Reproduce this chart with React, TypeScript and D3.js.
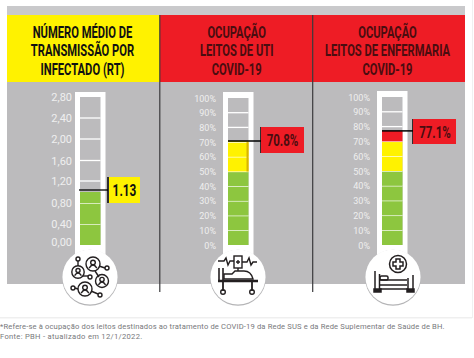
import React from "react";
import * as d3 from "d3";

const titles = [
  ["NÚMERO MÉDIO DE", "TRANSMISSÃO POR", "INFECTADO (RT)"],
  ["OCUPAÇÃO", "LEITOS DE UTI", "COVID-19"],
  ["OCUPAÇÃO", "LEITOS DE ENFERMARIA", "COVID-19"],
];
const rtTicks = ["2,80", "2,40", "2,00", "1,60", "1,20", "0,80", "0,40", "0,00"];
const rtValues = [2.8, 2.4, 2.0, 1.6, 1.2, 0.8, 0.4, 0];
const pctTicks = [100, 90, 80, 70, 60, 50, 40, 30, 20, 10, 0];
const values = [1.13, 70.8, 77.1];
const labels = ["1.13", "70.8%", "77.1%"];
const RED = "#ee1c25", YEL = "#fff200", GRN = "#8dc63f", GREY = "#bcbbbd";
const INK = "#231f20", DARKRED = "#4a0d10";

const F = "'Liberation Sans Narrow',Roboto,sans-serif";
const LABEL = "Roboto,sans-serif";

function segments(ticks: number[], y: any, v: number, color: (lo: number) => string, x: number, w: number, inset: number) {
  const out: React.ReactNode[] = [];
  const asc = [...ticks].sort((a, b) => a - b);
  asc.slice(0, -1).forEach((lo, i) => {
    const hi = asc[i + 1];
    const top = Math.min(hi, v);
    if (top > lo) {
      const t = y(top) + (top === v ? inset : 0);
      out.push(<rect key={lo} x={x} width={w} y={t} height={y(lo) - t} fill={color(lo)} />);
    }
    if (hi !== asc[asc.length - 1]) {
      out.push(<line key={"s" + lo} x1={x} x2={x + w} y1={y(hi)} y2={y(hi)} stroke="#fff" strokeWidth={1.3} />);
    }
  });
  return out;
}

function Bulb({ cx, cy }: { cx: number; cy: number }) {
  return (
    <g>
      <circle cx={cx} cy={cy + 0.8} r={28} fill="#b4b4b6" />
      <circle cx={cx} cy={cy} r={27.6} fill="#fff" />
    </g>
  );
}

function People({ cx, cy }: { cx: number; cy: number }) {
  const ppl = [[-12, -5, 6.2], [3, -13, 7], [12, 4, 6.5], [-5, 12, 7]];
  const dots = [[-12, -18], [17, -9], [0, 0], [-17, 11], [10, 18]];
  const links = [[-12, -16, -12, -11], [9, -11, 15, -9], [-7, -1, -2, -1], [-15, 11, -12, 12], [1, 14, 8, 17], [5, -6, 9, 0]];
  return (
    <g fill="none" stroke={INK} strokeWidth={1.4}>
      {dots.map(([x, y], i) => <circle key={i} cx={cx + x} cy={cy + y} r={2} />)}
      {links.map(([a, b, c, d], i) => <line key={i} x1={cx + a} y1={cy + b} x2={cx + c} y2={cy + d} />)}
      {ppl.map(([x, y, r], i) => (
        <g key={i}>
          <circle cx={cx + x} cy={cy + y} r={r} />
          <circle cx={cx + x} cy={cy + y - 1.5} r={r * 0.33} />
          <path d={`M${cx + x - r * 0.55} ${cy + y + r * 0.6}q${r * 0.55} -${r * 0.9} ${r * 1.1} 0`} />
        </g>
      ))}
    </g>
  );
}

function Icu({ cx, cy }: { cx: number; cy: number }) {
  return (
    <g fill="none" stroke={INK} strokeWidth={1.4}>
      <path d={`M${cx - 20} ${cy - 16}h6l2 -3l2 7l2 -4h4`} />
      <rect x={cx - 4} y={cy - 21} width={8} height={12} />
      <path d={`M${cx - 2} ${cy - 15}h4M${cx} ${cy - 17}v4M${cx} ${cy - 9}v3`} />
      <path d={`M${cx + 4} ${cy - 15}h5l2 -4l2 7l2 -3h4`} />
      <path d={`M${cx - 19} ${cy - 9}v13M${cx - 15} ${cy - 9}v13`} strokeWidth={1.6} />
      <path d={`M${cx - 14} ${cy + 2}v-5h8l3 -3h9q7 0 9 8z`} />
      <path d={`M${cx - 20} ${cy + 4}h40`} strokeWidth={2.6} />
      <path d={`M${cx - 15} ${cy + 5}v9M${cx + 14} ${cy + 5}v9`} strokeWidth={1.8} />
      <circle cx={cx - 15} cy={cy + 15} r={2.3} />
      <circle cx={cx + 14} cy={cy + 15} r={2.3} />
    </g>
  );
}

function Bed({ cx, cy }: { cx: number; cy: number }) {
  return (
    <g fill="none" stroke={INK} strokeWidth={1.5}>
      <circle cx={cx + 5} cy={cy - 13} r={8.5} />
      <path d={`M${cx + 3} ${cy - 18}h4v3h3v4h-3v3h-4v-3h-3v-4h3z`} />
      <path d={`M${cx - 18} ${cy - 6}v19M${cx - 13.5} ${cy - 3}v16`} />
      <rect x={cx - 13} y={cy - 1} width={8} height={4} rx={1.5} />
      <path d={`M${cx - 13} ${cy + 3}h27M${cx - 13} ${cy + 8}h27`} />
      <path d={`M${cx + 20} ${cy - 2}v15M${cx + 15} ${cy + 1}v12`} />
      <path d={`M${cx - 13} ${cy + 12}h28`} />
      <path d={`M${cx - 19} ${cy + 12}h7v3h-7zM${cx + 14} ${cy + 12}h7v3h-7z`} fill={INK} />
    </g>
  );
}

const panels = [
  { x0: 7, x1: 159, mid: 82.5, cx: 90, tube: 75, top: 92, yTop: 97, yBot: 245 },
  { x0: 161, x1: 312, mid: 236.7, cx: 238, tube: 223, top: 92, yTop: 98, yBot: 245 },
  { x0: 314, x1: 465, mid: 387.5, cx: 393, tube: 377, top: 91, yTop: 97, yBot: 245 },
];

export default function App() {
  // The reference's RT gauge is not drawn to its own axis at the value, so the value is a knot of the scale.
  const yRt = d3.scaleLinear()
    .domain([0, 0.4, 0.8, values[0], 1.2, 1.6, 2.0, 2.4, 2.8])
    .range([245, 224, 203, 190, 181, 160.5, 139, 118, 97]);
  const yUti = d3.scaleLinear().domain([0, 100]).range([245, 98]);
  const yEnf = d3.scaleLinear().domain([0, 100]).range([245, 97]);
  const colorRt = () => GRN;
  const colorEnf = (lo: number) => (lo < 50 ? GRN : lo < 70 ? YEL : RED);
  const colorUti = (lo: number) => (lo < 50 ? GRN : YEL);

  return (
    <svg width={474} height={358} style={{ position: "absolute", left: 0, top: 0, background: "#fff" }}>
      <rect x={7} y={6} width={458} height={10} fill="#c9c9cb" />
      <rect x={7} y={15} width={153} height={67} fill={YEL} />
      <rect x={160} y={15} width={153} height={67} fill={RED} />
      <rect x={313} y={15} width={152} height={67} fill={RED} />
      <rect x={7} y={82} width={458} height={202} fill={GREY} />
      <line x1={159.8} x2={159.8} y1={15} y2={292} stroke="#3a3a3c" strokeWidth={1.2} />
      <line x1={312.7} x2={312.7} y1={15} y2={292} stroke="#3a3a3c" strokeWidth={1.2} />
      {titles.map((t, i) => (
        <g key={i} transform={`translate(${panels[i].mid},0) scale(0.7,1)`}>
          {t.map((s, j) => (
            <text key={j} x={0} y={37.9 + j * 18.6} textAnchor="middle" fontFamily={F} fontWeight={700} fontSize={16} fill={i === 0 ? "#111" : DARKRED}>{s}</text>
          ))}
        </g>
      ))}

      {panels.map((p, i) => {
        const ticks = i === 0 ? rtValues : pctTicks;
        const y: any = i === 0 ? yRt : i === 1 ? yUti : yEnf;
        const color = i === 0 ? colorRt : i === 1 ? colorUti : colorEnf;
        const inset = i === 0 ? 2 : 0;
        return (
          <g key={i}>
            <rect x={p.tube} y={p.top} width={30.5} height={170} fill="#fff" />
            <rect x={p.tube + 5} y={p.yTop} width={20.5} height={p.yBot - p.yTop} fill={GREY} />
            {segments(ticks, y, values[i], color, p.tube + 5, 20.5, inset)}
            <Bulb cx={p.cx} cy={277} />
            {ticks.map((t, j) => (
              <text key={j} x={i === 0 ? 72 : p.tube - 7}
                y={i === 0 ? (t === 0 ? y(t) - 3 + 4 : y(t) + 4) : y(t) + 3.5}
                textAnchor="end" fill="#efefef" fontFamily={LABEL} fontSize={i === 0 ? 11 : 9}>
                {i === 0 ? rtTicks[j] : `${t}%`}
              </text>
            ))}
          </g>
        );
      })}

      <rect x={246.5} y={yUti(70)} width={2} height={yUti(50) - yUti(70)} fill="#d9b400" />

      {/* value callouts */}
      <line x1={79} x2={108} y1={yRt(values[0])} y2={yRt(values[0])} stroke="#000" strokeWidth={1.3} />
      <line x1={108} x2={108} y1={177} y2={203} stroke="#000" strokeWidth={1.5} />
      <rect x={109} y={177} width={31} height={26} fill={YEL} />
      <g transform="translate(124.5,0) scale(0.74,1)">
        <text x={0} y={196} textAnchor="middle" fontFamily={F} fontWeight={700} fontSize={16} fill="#111">{labels[0]}</text>
      </g>

      <line x1={228} x2={261} y1={yUti(values[1])} y2={yUti(values[1])} stroke="#000" strokeWidth={1.5} />
      <line x1={261} x2={261} y1={127} y2={153} stroke="#000" strokeWidth={1.5} />
      <rect x={261} y={127} width={43} height={26} fill={RED} />
      <g transform="translate(282.5,0) scale(0.72,1)">
        <text x={0} y={146} textAnchor="middle" fontFamily={F} fontWeight={700} fontSize={16} fill={DARKRED}>{labels[1]}</text>
      </g>

      <line x1={382} x2={413} y1={yEnf(values[2])} y2={yEnf(values[2])} stroke="#000" strokeWidth={1.5} />
      <line x1={413} x2={413} y1={119} y2={144} stroke="#000" strokeWidth={1.5} />
      <rect x={413} y={119} width={43} height={25} fill={RED} />
      <g transform="translate(435,0) scale(0.72,1)">
        <text x={0} y={138} textAnchor="middle" fontFamily={F} fontWeight={700} fontSize={16} fill={DARKRED}>{labels[2]}</text>
      </g>

      <People cx={90} cy={277} />
      <Icu cx={238} cy={277} />
      <Bed cx={393} cy={277} />

      <rect x={0} y={317} width={472} height={1.5} fill="#efefef" />
      <rect x={472} y={0} width={1} height={318} fill="#f0f0f0" />
      <text x={0} y={329} fontFamily={LABEL} fontSize={7.6} fill="#77787b" letterSpacing={0.15}>*Refere-se à ocupação dos leitos destinados ao tratamento de COVID-19 da Rede SUS e da Rede Suplementar de Saúde de BH.</text>
      <text x={0} y={338.5} fontFamily={LABEL} fontSize={7.6} fill="#77787b" letterSpacing={0.3}>Fonte: PBH - atualizado em 12/1/2022.</text>
    </svg>
  );
}
